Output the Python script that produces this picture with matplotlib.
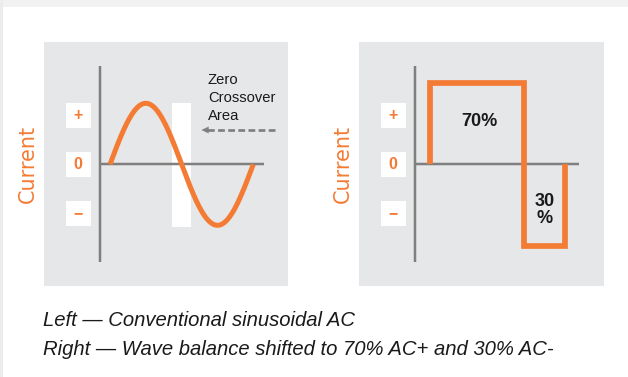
import numpy as np
import matplotlib
matplotlib.use("Agg")
import matplotlib.pyplot as plt
from matplotlib.patches import Rectangle

# ---------------- data ----------------
level_labels = ["+", "0", "−"]
axis_title = "Current"
sine_cycles = 1.0
sine_amplitude = 1.0
balance_pct = [70, 30]
balance_labels = ["70%", "30\n%"]
wave_amplitude = 1.0
annotation_lines = ["Zero", "Crossover", "Area"]
captions = ["Left — Conventional sinusoidal AC",
            "Right — Wave balance shifted to 70% AC+ and 30% AC-"]

# ---------------- style ----------------
W, H = 628, 377
ORANGE = "#F47B34"
PANEL = "#E6E7E8"
AXGRAY = "#7F7F7F"
TXT = "#1A1A1A"
PX2PT = 72 / 100

fig = plt.figure(figsize=(W / 100, H / 100), dpi=100)
fig.patch.set_facecolor("white")
fig.patches.append(Rectangle((0, 1 - 7 / H), 1, 7 / H, transform=fig.transFigure,
                             facecolor="#F2F2F2", edgecolor="none", zorder=0))
fig.patches.append(Rectangle((0, 0), 2.5 / W, 1, transform=fig.transFigure,
                             facecolor="#ECECEC", edgecolor="none", zorder=0))


def make_panel(pl, pr, pt, pb, x0, sx, y0, sy):
    ax = fig.add_axes([pl / W, 1 - pb / H, (pr - pl) / W, (pb - pt) / H])
    ax.set_xlim((pl - x0) / sx, (pr - x0) / sx)
    ax.set_ylim((y0 - pb) / sy, (y0 - pt) / sy)
    ax.set_facecolor(PANEL)
    for s in ax.spines.values():
        s.set_visible(False)
    ax.set_xticks([])
    ax.set_yticks([])

    def fx(px):
        return (px - x0) / sx

    def fy(py):
        return (y0 - py) / sy

    vx = pl + 56.3
    ax.plot([fx(vx), fx(vx)], [fy(66.5), fy(261.7)], color=AXGRAY,
            lw=2.5 * PX2PT, solid_capstyle="butt", zorder=3)
    ax.plot([fx(vx), fx(pl + 220)], [fy(y0), fy(y0)], color=AXGRAY,
            lw=2.5 * PX2PT, solid_capstyle="butt", zorder=3)

    for lab, cy in zip(level_labels, [115.5, 164.5, 213.4]):
        ax.add_patch(Rectangle((fx(pl + 22), fy(cy + 12.2)), 24.6 / sx, 24.4 / sy,
                               facecolor="white", edgecolor="none", zorder=2))
        ax.text(fx(pl + 34.3), fy(cy), lab, ha="center", va="center",
                color=ORANGE, fontsize=11.5, fontweight="bold",
                family=["Liberation Sans", "DejaVu Sans"], zorder=4)

    ax.text(fx(pl - 16.5), fy(164), axis_title, rotation=90, ha="center",
            va="center", color=ORANGE, fontsize=15, family="DejaVu Sans",
            clip_on=False)
    return ax, fx, fy


# ---------------- left panel: sinusoidal AC ----------------
axL, fxL, fyL = make_panel(44, 288, 42, 286, x0=110, sx=143.3, y0=164.3, sy=61)
t = np.linspace(0, sine_cycles, 400)
axL.plot(t, sine_amplitude * np.sin(2 * np.pi * t), color=ORANGE,
         lw=5 * PX2PT, solid_capstyle="butt", zorder=5)
axL.add_patch(Rectangle((0.5 * sine_cycles - 9.85 / 143.3, -sine_amplitude - 1.5 / 61),
                        19.7 / 143.3, 2 * sine_amplitude + 1.5 / 61,
                        facecolor="white", edgecolor="none", zorder=2))
for i, line in enumerate(annotation_lines):
    axL.text(fxL(208), fyL(84.3 + 17.9 * i), line, ha="left", va="baseline",
             color=TXT, fontsize=10.6, family="Liberation Sans")
axL.plot([fxL(275), fxL(206)], [fyL(130), fyL(130)], color=AXGRAY,
         lw=2.7 * PX2PT, ls=(0, (2.5, 1.25)), solid_capstyle="butt", zorder=4)
axL.annotate("", xy=(fxL(201.5), fyL(130)), xytext=(fxL(210), fyL(130)),
             arrowprops=dict(arrowstyle="-|>,head_length=0.5,head_width=0.24",
                             color=AXGRAY, lw=0.1, shrinkA=0, shrinkB=0),
             zorder=4)

# ---------------- right panel: 70/30 wave balance ----------------
axR, fxR, fyR = make_panel(359, 604, 42, 286, x0=429.5, sx=135.7, y0=164.3, sy=81.2)
cum = np.cumsum([0] + balance_pct) / 100.0
xs = [cum[0], cum[0], cum[1], cum[1], cum[2], cum[2]]
ys = [0, wave_amplitude, wave_amplitude, -wave_amplitude, -wave_amplitude, 0]
axR.plot(xs, ys, color=ORANGE, lw=5.7 * PX2PT, solid_joinstyle="miter",
         solid_capstyle="butt", zorder=5)
axR.text((cum[0] + cum[1]) / 2 + 2.4 / 135.7, fyR(121.7), balance_labels[0],
         ha="center", va="center", color=TXT, fontsize=13, fontweight="bold",
         family="Liberation Sans")
axR.text((cum[1] + cum[2]) / 2, fyR(210), balance_labels[1], ha="center",
         va="center", color=TXT, fontsize=13, fontweight="bold",
         family="Liberation Sans", linespacing=1.0)

# ---------------- captions ----------------
for cap, base in zip(captions, [326, 355]):
    fig.text(43.3 / W, 1 - base / H, cap, ha="left", va="baseline", color=TXT,
             fontsize=14.55, style="italic", family="Liberation Sans")

fig.savefig("out.png", dpi=100, facecolor="white")
